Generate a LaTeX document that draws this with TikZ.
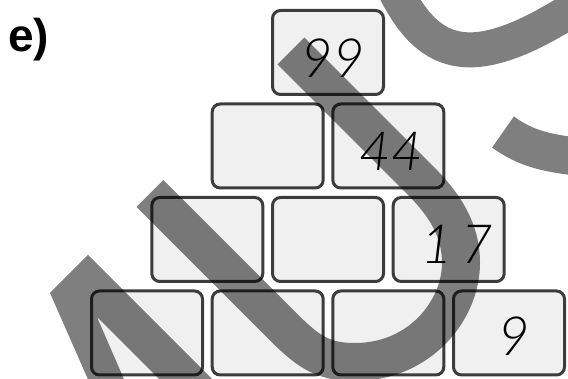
\documentclass[tikz,border=0pt]{standalone}
\usepackage{fontspec}
\setmainfont{Liberation Sans}
\newfontfamily\handfont{Lato Light}
\definecolor{boxline}{HTML}{3C3C3C}
\definecolor{boxfill}{HTML}{F0F0F0}
\begin{document}
\begin{tikzpicture}[x=1pt,y=-1pt,
  box/.style={draw=boxline, fill=boxfill, line width=3pt, rounded corners=8pt,
    minimum width=111pt, minimum height=84pt, inner sep=0pt},
  digits/.style={font=\handfont\itshape\fontsize{54}{54}\selectfont, inner sep=0pt, text depth=0pt},
  wm/.style={line width=38pt, draw=black, line cap=butt},
  label/.style={font=\bfseries\fontsize{46}{46}\selectfont, inner sep=0pt, anchor=base west}
]
\useasboundingbox (0,0) rectangle (568,379);
% row 0
\node[box] (r0a) at (328,52.5) {};
% row 1
\node[box] (r1a) at (267.7,146) {};
\node[box] (r1b) at (388.3,146) {};
% row 2
\node[box] (r2a) at (207.3,239.5) {};
\node[box] (r2b) at (328,239.5) {};
\node[box] (r2c) at (448.7,239.5) {};
% row 3
\node[box] (r3a) at (147,333) {};
\node[box] (r3b) at (267.7,333) {};
\node[box] (r3c) at (388.3,333) {};
\node[box] (r3d) at (509,333) {};
% numbers
\node[digits] (n99) at (333,58) {99};
\node[digits] (n44) at (391,151) {44};
\node[digits] (n17) at (457,244) {1\,7};
\node[digits] (n9) at (514,336) {9};
% label
\node[label] (lab) at (8,52) {e)};
% watermark
\begin{scope}[opacity=0.5]
\clip (0,0) rectangle (568,379);
\fill[black] (88,255) -- (218,385) -- (165,385) -- (97,317) -- (126.5,385) -- (90.5,385) -- (50,293) -- cycle;
\draw[wm] (150,193.5) -- (285,328.5) .. controls (310,353.5) and (325,362) .. (355,362)
  .. controls (420,362) and (461,310) .. (461,263)
  .. controls (461,230) and (445,205) .. (420,180) -- (291,51);
\draw[wm, line width=35pt] (395,-10) .. controls (420,40) and (450,60) .. (500,45)
  .. controls (530,36) and (555,20) .. (580,5);
\draw[wm] (503,132) .. controls (525,148) and (545,153) .. (580,157);
\end{scope}
\end{tikzpicture}
\end{document}
